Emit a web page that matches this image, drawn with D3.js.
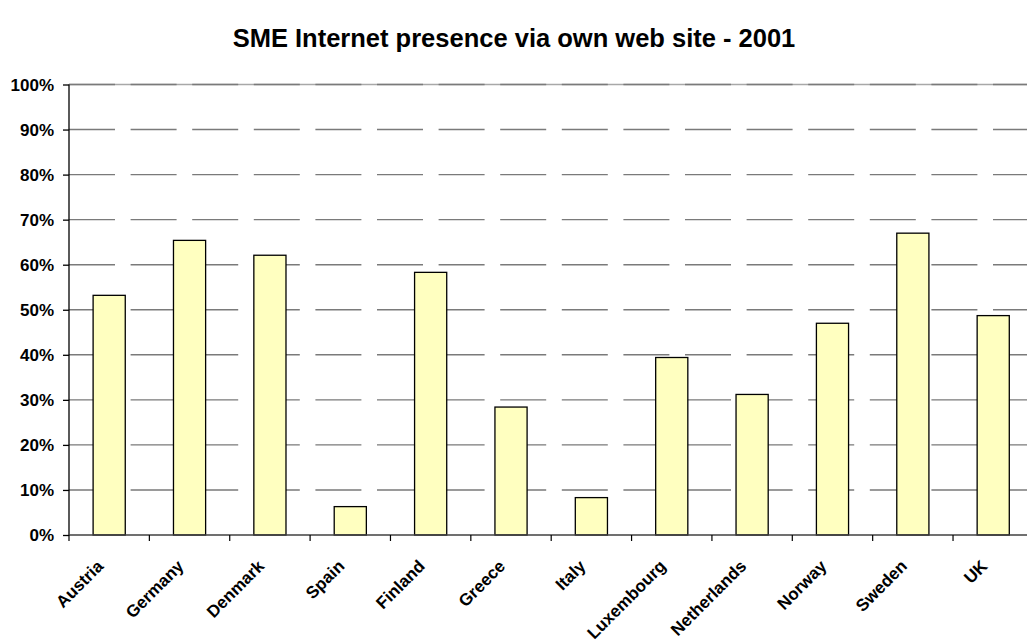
<!DOCTYPE html>
<html>
<head>
<meta charset="utf-8">
<script src="https://cdn.jsdelivr.net/npm/d3@7"></script>
<style>
  html, body { margin: 0; padding: 0; background: #fff; }
  svg { display: block; }
  text { font-family: Arial, "Liberation Sans", sans-serif; font-weight: bold; fill: #000; }
</style>
</head>
<body>
<svg id="chart" width="1027" height="642"></svg>
<script>
const categories = ["Austria","Germany","Denmark","Spain","Finland","Greece","Italy","Luxembourg","Netherlands","Norway","Sweden","UK"];
const values = [0.532, 0.654, 0.621, 0.063, 0.583, 0.284, 0.083, 0.394, 0.312, 0.470, 0.670, 0.487];
const yTicks = [0, 0.1, 0.2, 0.3, 0.4, 0.5, 0.6, 0.7, 0.8, 0.9, 1.0];
const title = "SME Internet presence via own web site - 2001";

const svg = d3.select("#chart");
const mLeft = 69, mRight = 1033.4, mTop = 84.5, mBottom = 535;

const x = d3.scaleBand().domain(categories).range([mLeft, mRight]).paddingInner(0.6).paddingOuter(0.3);
const y = d3.scaleLinear().domain([0, 1]).range([mBottom, mTop]);
const fmt = d3.format(".0%");

// Title
svg.append("text").attr("x", 514).attr("y", 47).attr("text-anchor", "middle")
  .style("font-size", "25.5px").text(title);

// top border line (light)
svg.append("line").attr("x1", mLeft).attr("x2", 1027).attr("y1", y(1)).attr("y2", y(1))
  .attr("stroke", "#a8a8a8").attr("stroke-width", 1.4);

// gridlines
svg.append("g").selectAll("line").data(yTicks.filter(d => d > 0)).join("line")
  .attr("x1", mLeft).attr("x2", 1027)
  .attr("y1", d => y(d)).attr("y2", d => y(d))
  .attr("stroke", "#7a7a7a").attr("stroke-width", 1.4)
  .attr("stroke-dasharray", "46,15.6");

// bars
svg.append("g").selectAll("rect").data(categories).join("rect")
  .attr("x", d => x(d)).attr("width", x.bandwidth())
  .attr("y", (d, i) => y(values[i])).attr("height", (d, i) => y(0) - y(values[i]))
  .attr("fill", "#FFFFC0").attr("stroke", "#000").attr("stroke-width", 1.3);

// Y axis
const yAxis = d3.axisLeft(y).tickValues(yTicks).tickFormat(fmt).tickSize(6).tickPadding(9);
const gy = svg.append("g").attr("transform", `translate(${mLeft},0)`).call(yAxis);
gy.select(".domain").attr("stroke", "#000").attr("stroke-width", 1.3).attr("d", `M-0,${mBottom}V${mTop}`);
gy.selectAll(".tick line").attr("stroke", "#000").attr("stroke-width", 1.3);
gy.selectAll(".tick text").style("font-size", "17px").attr("dy", "0.35em")
  .style("font-family", "Arial, 'Liberation Sans', sans-serif").style("font-weight", "bold").attr("fill", "#000");

// X axis baseline
svg.append("line").attr("x1", mLeft).attr("x2", 1027).attr("y1", mBottom).attr("y2", mBottom)
  .attr("stroke", "#404040").attr("stroke-width", 1.4);

// X boundary ticks
const step = x.step();
const boundaries = d3.range(categories.length + 1).map(i => x(categories[0]) - step * x.paddingOuter() + i * step);
svg.append("g").selectAll("line").data(boundaries).join("line")
  .attr("x1", d => d).attr("x2", d => d).attr("y1", mBottom).attr("y2", mBottom + 6)
  .attr("stroke", "#000").attr("stroke-width", 1.2);

// X labels
svg.append("g").selectAll("text").data(categories).join("text")
  .attr("transform", d => `translate(${x(d) + x.bandwidth() / 2 - 9},${mBottom + 28}) rotate(-45)`)
  .attr("text-anchor", "end")
  .attr("dy", "0.35em")
  .style("font-size", "17px")
  .text(d => d);
</script>
</body>
</html>
